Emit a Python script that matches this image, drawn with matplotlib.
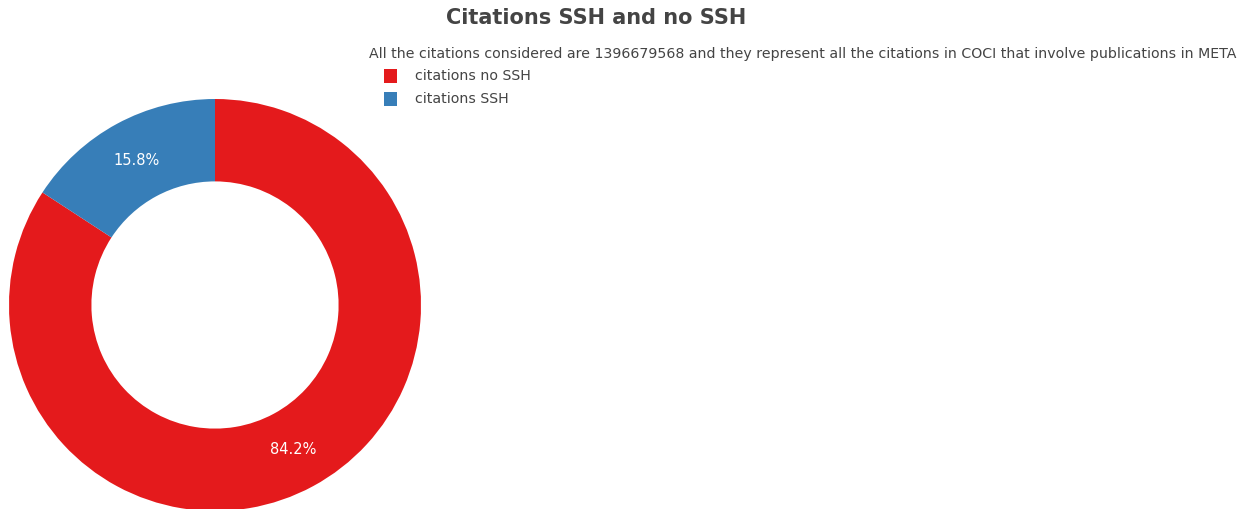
import matplotlib
matplotlib.use("Agg")
import matplotlib.pyplot as plt
from matplotlib.patches import Rectangle

W, H = 1248, 509
DPI = 100

# shares of the citations (percent)
labels = ["citations no SSH", "citations SSH"]
shares = [84.2, 15.8]
colors = ["#e41a1c", "#377eb8"]
total_citations = 1396679568

title = "Citations SSH and no SSH"
legend_title = ("All the citations considered are %d and they represent all the "
                "citations in COCI that involve publications in META" % total_citations)

TXT = "#444444"
plt.rcParams["font.family"] = ["DejaVu Sans"]


def fx(px):
    return px / W


def fy(py):
    return 1 - py / H


fig = plt.figure(figsize=(W / DPI, H / DPI), dpi=DPI)

# donut: center (215, 305) px, outer radius 206 px
cx, cy, r = 215, 305, 206
ax = fig.add_axes([fx(cx - r), fy(cy + r), 2 * r / W, 2 * r / H])
wedges, _, autotexts = ax.pie(
    shares, colors=colors, startangle=90, counterclock=False,
    autopct="%.1f%%", pctdistance=0.8,
    wedgeprops=dict(width=0.4, edgecolor="none", linewidth=0),
    textprops=dict(color="white", fontsize=10.5),
)
ax.set_xlim(-1, 1)
ax.set_ylim(-1, 1)
ax.set_aspect("equal")
ax.axis("off")

fig.text(fx(596), fy(18), title, ha="center", va="center",
         fontsize=15, fontweight="bold", color=TXT)
fig.text(fx(369), fy(54), legend_title, ha="left", va="center",
         fontsize=10.2, color=TXT)

for i, (lab, col) in enumerate(zip(labels, colors)):
    y = 76 + i * 23
    fig.patches.append(Rectangle((fx(384), fy(y + 6.5)), 13 / W, 13 / H,
                                 transform=fig.transFigure, facecolor=col,
                                 edgecolor="none"))
    fig.text(fx(415), fy(y), lab, ha="left", va="center",
             fontsize=10.2, color=TXT)

fig.savefig("out.png", dpi=DPI)
